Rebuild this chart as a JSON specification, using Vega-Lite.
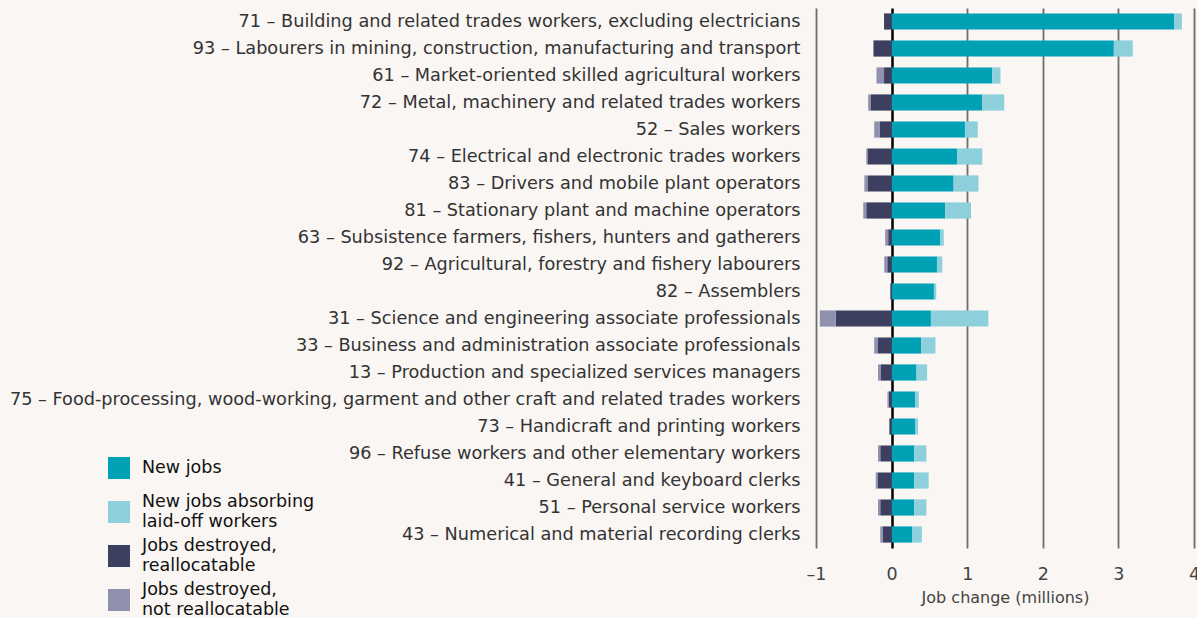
{
  "$schema": "https://vega.github.io/schema/vega-lite/v6.json",
  "width": 378,
  "height": 540,
  "autosize": {"type": "none"},
  "padding": {"left": 816, "top": 8, "right": 3, "bottom": 70},
  "background": "#f9f6f3",
  "config": {
    "view": {"stroke": null},
    "font": "DejaVu Sans",
    "text": {"font": "DejaVu Sans"}
  },
  "data": {
    "values": [
      {"occ": "71 – Building and related trades workers, excluding electricians", "type": "New jobs", "value": 3.74},
      {"occ": "71 – Building and related trades workers, excluding electricians", "type": "New jobs absorbing|laid-off workers", "value": 0.10},
      {"occ": "71 – Building and related trades workers, excluding electricians", "type": "Jobs destroyed,|reallocatable", "value": -0.10},
      {"occ": "71 – Building and related trades workers, excluding electricians", "type": "Jobs destroyed,|not reallocatable", "value": 0},
      {"occ": "93 – Labourers in mining, construction, manufacturing and transport", "type": "New jobs", "value": 2.94},
      {"occ": "93 – Labourers in mining, construction, manufacturing and transport", "type": "New jobs absorbing|laid-off workers", "value": 0.25},
      {"occ": "93 – Labourers in mining, construction, manufacturing and transport", "type": "Jobs destroyed,|reallocatable", "value": -0.24},
      {"occ": "93 – Labourers in mining, construction, manufacturing and transport", "type": "Jobs destroyed,|not reallocatable", "value": 0},
      {"occ": "61 – Market-oriented skilled agricultural workers", "type": "New jobs", "value": 1.33},
      {"occ": "61 – Market-oriented skilled agricultural workers", "type": "New jobs absorbing|laid-off workers", "value": 0.11},
      {"occ": "61 – Market-oriented skilled agricultural workers", "type": "Jobs destroyed,|reallocatable", "value": -0.10},
      {"occ": "61 – Market-oriented skilled agricultural workers", "type": "Jobs destroyed,|not reallocatable", "value": -0.10},
      {"occ": "72 – Metal, machinery and related trades workers", "type": "New jobs", "value": 1.20},
      {"occ": "72 – Metal, machinery and related trades workers", "type": "New jobs absorbing|laid-off workers", "value": 0.29},
      {"occ": "72 – Metal, machinery and related trades workers", "type": "Jobs destroyed,|reallocatable", "value": -0.28},
      {"occ": "72 – Metal, machinery and related trades workers", "type": "Jobs destroyed,|not reallocatable", "value": -0.03},
      {"occ": "52 – Sales workers", "type": "New jobs", "value": 0.97},
      {"occ": "52 – Sales workers", "type": "New jobs absorbing|laid-off workers", "value": 0.17},
      {"occ": "52 – Sales workers", "type": "Jobs destroyed,|reallocatable", "value": -0.16},
      {"occ": "52 – Sales workers", "type": "Jobs destroyed,|not reallocatable", "value": -0.07},
      {"occ": "74 – Electrical and electronic trades workers", "type": "New jobs", "value": 0.87},
      {"occ": "74 – Electrical and electronic trades workers", "type": "New jobs absorbing|laid-off workers", "value": 0.33},
      {"occ": "74 – Electrical and electronic trades workers", "type": "Jobs destroyed,|reallocatable", "value": -0.32},
      {"occ": "74 – Electrical and electronic trades workers", "type": "Jobs destroyed,|not reallocatable", "value": -0.015},
      {"occ": "83 – Drivers and mobile plant operators", "type": "New jobs", "value": 0.82},
      {"occ": "83 – Drivers and mobile plant operators", "type": "New jobs absorbing|laid-off workers", "value": 0.33},
      {"occ": "83 – Drivers and mobile plant operators", "type": "Jobs destroyed,|reallocatable", "value": -0.32},
      {"occ": "83 – Drivers and mobile plant operators", "type": "Jobs destroyed,|not reallocatable", "value": -0.04},
      {"occ": "81 – Stationary plant and machine operators", "type": "New jobs", "value": 0.71},
      {"occ": "81 – Stationary plant and machine operators", "type": "New jobs absorbing|laid-off workers", "value": 0.34},
      {"occ": "81 – Stationary plant and machine operators", "type": "Jobs destroyed,|reallocatable", "value": -0.335},
      {"occ": "81 – Stationary plant and machine operators", "type": "Jobs destroyed,|not reallocatable", "value": -0.04},
      {"occ": "63 – Subsistence farmers, fishers, hunters and gatherers", "type": "New jobs", "value": 0.64},
      {"occ": "63 – Subsistence farmers, fishers, hunters and gatherers", "type": "New jobs absorbing|laid-off workers", "value": 0.05},
      {"occ": "63 – Subsistence farmers, fishers, hunters and gatherers", "type": "Jobs destroyed,|reallocatable", "value": -0.045},
      {"occ": "63 – Subsistence farmers, fishers, hunters and gatherers", "type": "Jobs destroyed,|not reallocatable", "value": -0.04},
      {"occ": "92 – Agricultural, forestry and fishery labourers", "type": "New jobs", "value": 0.60},
      {"occ": "92 – Agricultural, forestry and fishery labourers", "type": "New jobs absorbing|laid-off workers", "value": 0.07},
      {"occ": "92 – Agricultural, forestry and fishery labourers", "type": "Jobs destroyed,|reallocatable", "value": -0.057},
      {"occ": "92 – Agricultural, forestry and fishery labourers", "type": "Jobs destroyed,|not reallocatable", "value": -0.04},
      {"occ": "82 – Assemblers", "type": "New jobs", "value": 0.56},
      {"occ": "82 – Assemblers", "type": "New jobs absorbing|laid-off workers", "value": 0.03},
      {"occ": "82 – Assemblers", "type": "Jobs destroyed,|reallocatable", "value": -0.017},
      {"occ": "82 – Assemblers", "type": "Jobs destroyed,|not reallocatable", "value": 0},
      {"occ": "31 – Science and engineering associate professionals", "type": "New jobs", "value": 0.52},
      {"occ": "31 – Science and engineering associate professionals", "type": "New jobs absorbing|laid-off workers", "value": 0.76},
      {"occ": "31 – Science and engineering associate professionals", "type": "Jobs destroyed,|reallocatable", "value": -0.74},
      {"occ": "31 – Science and engineering associate professionals", "type": "Jobs destroyed,|not reallocatable", "value": -0.21},
      {"occ": "33 – Business and administration associate professionals", "type": "New jobs", "value": 0.39},
      {"occ": "33 – Business and administration associate professionals", "type": "New jobs absorbing|laid-off workers", "value": 0.19},
      {"occ": "33 – Business and administration associate professionals", "type": "Jobs destroyed,|reallocatable", "value": -0.18},
      {"occ": "33 – Business and administration associate professionals", "type": "Jobs destroyed,|not reallocatable", "value": -0.05},
      {"occ": "13 – Production and specialized services managers", "type": "New jobs", "value": 0.33},
      {"occ": "13 – Production and specialized services managers", "type": "New jobs absorbing|laid-off workers", "value": 0.14},
      {"occ": "13 – Production and specialized services managers", "type": "Jobs destroyed,|reallocatable", "value": -0.14},
      {"occ": "13 – Production and specialized services managers", "type": "Jobs destroyed,|not reallocatable", "value": -0.04},
      {"occ": "75 – Food-processing, wood-working, garment and other craft and related trades workers", "type": "New jobs", "value": 0.31},
      {"occ": "75 – Food-processing, wood-working, garment and other craft and related trades workers", "type": "New jobs absorbing|laid-off workers", "value": 0.05},
      {"occ": "75 – Food-processing, wood-working, garment and other craft and related trades workers", "type": "Jobs destroyed,|reallocatable", "value": -0.04},
      {"occ": "75 – Food-processing, wood-working, garment and other craft and related trades workers", "type": "Jobs destroyed,|not reallocatable", "value": -0.015},
      {"occ": "73 – Handicraft and printing workers", "type": "New jobs", "value": 0.31},
      {"occ": "73 – Handicraft and printing workers", "type": "New jobs absorbing|laid-off workers", "value": 0.04},
      {"occ": "73 – Handicraft and printing workers", "type": "Jobs destroyed,|reallocatable", "value": -0.03},
      {"occ": "73 – Handicraft and printing workers", "type": "Jobs destroyed,|not reallocatable", "value": 0},
      {"occ": "96 – Refuse workers and other elementary workers", "type": "New jobs", "value": 0.30},
      {"occ": "96 – Refuse workers and other elementary workers", "type": "New jobs absorbing|laid-off workers", "value": 0.16},
      {"occ": "96 – Refuse workers and other elementary workers", "type": "Jobs destroyed,|reallocatable", "value": -0.15},
      {"occ": "96 – Refuse workers and other elementary workers", "type": "Jobs destroyed,|not reallocatable", "value": -0.03},
      {"occ": "41 – General and keyboard clerks", "type": "New jobs", "value": 0.30},
      {"occ": "41 – General and keyboard clerks", "type": "New jobs absorbing|laid-off workers", "value": 0.19},
      {"occ": "41 – General and keyboard clerks", "type": "Jobs destroyed,|reallocatable", "value": -0.18},
      {"occ": "41 – General and keyboard clerks", "type": "Jobs destroyed,|not reallocatable", "value": -0.03},
      {"occ": "51 – Personal service workers", "type": "New jobs", "value": 0.30},
      {"occ": "51 – Personal service workers", "type": "New jobs absorbing|laid-off workers", "value": 0.16},
      {"occ": "51 – Personal service workers", "type": "Jobs destroyed,|reallocatable", "value": -0.15},
      {"occ": "51 – Personal service workers", "type": "Jobs destroyed,|not reallocatable", "value": -0.03},
      {"occ": "43 – Numerical and material recording clerks", "type": "New jobs", "value": 0.27},
      {"occ": "43 – Numerical and material recording clerks", "type": "New jobs absorbing|laid-off workers", "value": 0.13},
      {"occ": "43 – Numerical and material recording clerks", "type": "Jobs destroyed,|reallocatable", "value": -0.12},
      {"occ": "43 – Numerical and material recording clerks", "type": "Jobs destroyed,|not reallocatable", "value": -0.03}
    ]
  },
  "mark": {"type": "bar"},
  "encoding": {
    "y": {
      "field": "occ",
      "type": "nominal",
      "sort": null,
      "scale": {"paddingInner": 0.4, "paddingOuter": 0.2},
      "axis": {
        "title": null,
        "domain": false,
        "ticks": false,
        "labelPadding": 16,
        "labelLimit": 900,
        "labelFontSize": 17.7,
        "labelColor": "#333333",
        "labelFont": "DejaVu Sans"
      }
    },
    "x": {
      "field": "value",
      "type": "quantitative",
      "stack": "zero",
      "scale": {"domain": [-1, 4], "nice": false},
      "axis": {
        "title": "Job change (millions)",
        "titleFontSize": 16,
        "titleFontWeight": "normal",
        "titleColor": "#444444",
        "titleFont": "DejaVu Sans",
        "titlePadding": 7,
        "values": [-1, 0, 1, 2, 3, 4],
        "labelExpr": "datum.value < 0 ? '–' + abs(datum.value) : datum.label",
        "labelFontSize": 17.5,
        "labelColor": "#444444",
        "labelFont": "DejaVu Sans",
        "labelPadding": 17,
        "labelFlush": false,
        "domain": false,
        "ticks": false,
        "grid": true,
        "gridColor": {"condition": {"test": "datum.value === 0", "value": "#000000"}, "value": "#6e6e6e"},
        "gridWidth": {"condition": {"test": "datum.value === 0", "value": 2.5}, "value": 1.8}
      }
    },
    "color": {
      "field": "type",
      "type": "nominal",
      "scale": {
        "domain": ["New jobs", "New jobs absorbing|laid-off workers", "Jobs destroyed,|reallocatable", "Jobs destroyed,|not reallocatable"],
        "range": ["#00a0b5", "#8dd0dc", "#3c3f60", "#9091ae"]
      },
      "legend": {
        "title": null,
        "orient": "none",
        "legendX": -708,
        "legendY": 440,
        "symbolType": "square",
        "symbolSize": 484,
        "symbolStrokeWidth": 0,
        "symbolOpacity": 1,
        "labelFontSize": 17.5,
        "labelColor": "#111111",
        "labelFont": "DejaVu Sans",
        "labelOffset": 12,
        "labelLimit": 300,
        "clipHeight": 40,
        "rowPadding": 4,
        "labelExpr": "split(datum.label, '|')",
        "encode": {
          "labels": {
            "update": {
              "lineHeight": {"value": 20},
              "dy": {"signal": "indexof(datum.label, '|') >= 0 ? -10 : 0"}
            }
          }
        }
      }
    },
    "order": {"field": "ord", "type": "quantitative"}
  },
  "transform": [
    {"lookup": "type", "from": {"data": {"values": [
      {"type": "New jobs", "ord": 0},
      {"type": "New jobs absorbing|laid-off workers", "ord": 1},
      {"type": "Jobs destroyed,|reallocatable", "ord": 2},
      {"type": "Jobs destroyed,|not reallocatable", "ord": 3}
    ]}, "key": "type", "fields": ["ord"]}}
  ]
}
